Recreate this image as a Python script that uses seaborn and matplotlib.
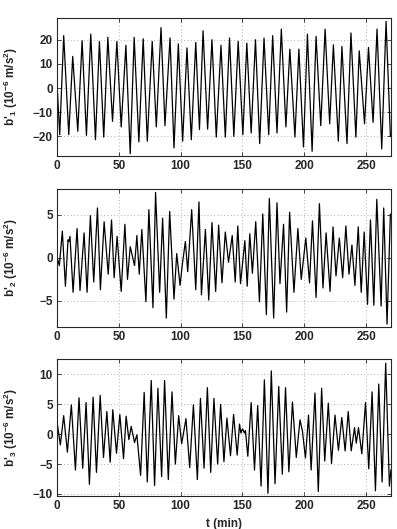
import numpy as np
import pandas as pd
import matplotlib
matplotlib.use("Agg")
import matplotlib.pyplot as plt
import seaborn as sns

# DATA: extrema of each trace (t in min, b' in 1e-6 m/s^2)

t1 = [0, 2.2, 5.4, 9.5, 12.7, 16.8, 20.3, 23.8, 27.3, 31.1, 34.3, 37.8, 41.1, 44.9, 48.4,
      51.9, 55.7, 59.2, 62.4, 66.2, 69.7, 73.0, 77.0, 80.3, 84.1, 87.3, 91.4, 94.6, 98.1,
      101.6, 105.1, 108.6, 112.2, 115.2, 118.1, 121.8, 125.3, 128.8, 132.6, 136.1, 139.5,
      143.0, 146.5, 150.3, 153.5, 157.0, 160.5, 163.9, 167.4, 171.2, 174.4, 177.9, 181.4,
      185.1, 188.3, 192.4, 195.6, 199.3, 202.5, 206.3, 209.5, 213.3, 216.8, 220.5, 223.5,
      227.5, 230.4, 234.5, 237.7, 241.7, 244.4, 248.7, 251.9, 255.6, 258.8, 262.6, 266.1,
      269.6, 270]
b1 = [2, -19.3, 21.7, -19.3, 13.1, -17.9, 19.6, -19.6, 22.3, -21.4, 19.3, -20.3, 21.0, -13.8,
      19.3, -16.1, 17.7, -27.2, 21.0, -22.3, 20.4, -22.0, 19.3, -16.1, 25.0, -15.6, 20.7,
      -24.8, 18.3, -22.0, 16.6, -21.4, 18.9, -17.2, 23.7, -17.0, 20.0, -20.3, 17.7, -20.3,
      20.7, -20.0, 19.3, -19.3, 18.6, -18.6, 20.0, -23.0, 20.7, -19.3, 21.7, -18.6, 24.4,
      -16.1, 16.1, -20.3, 16.1, -24.4, 22.3, -26.2, 21.4, -15.6, 24.4, -14.8, 17.9, -22.0,
      17.2, -23.0, 22.8, -20.3, 15.4, -14.8, 16.8, -14.2, 24.4, -25.2, 27.6, -20.0, -19.0]

t2 = [0, 1.9, 4.3, 6.8, 8.9, 9.7, 10.5, 13.0, 16.2, 18.6, 21.9, 24.3, 27.0, 29.7, 32.7, 35.1,
      38.1, 41.4, 44.1, 46.2, 48.6, 51.9, 54.9, 57.0, 59.2, 62.7, 64.6, 66.5, 68.6, 71.9,
      74.3, 77.6, 79.7, 83.0, 85.4, 88.4, 91.1, 94.6, 96.8, 99.5, 101.4, 103.8, 105.7,
      108.9, 112.2, 114.8, 116.8, 120.0, 122.7, 125.3, 128.3, 130.7, 133.4, 136.1, 138.7,
      141.7, 144.1, 146.2, 148.4, 151.9, 153.8, 155.9, 158.0, 160.7, 163.7, 166.4, 169.3,
      171.7, 175.2, 177.9, 180.3, 183.2, 185.7, 188.1, 191.6, 194.8, 197.5, 201.2, 204.2,
      206.6, 209.5, 212.2, 215.1, 217.6, 220.8, 223.2, 225.6, 228.3, 231.0, 233.6, 236.1,
      238.5, 240.9, 243.6, 246.0, 248.4, 251.1, 253.5, 256.2, 258.6, 262.1, 264.2, 266.9,
      269.6]
b2 = [0.1, -0.9, 3.1, -3.3, 2.1, 1.9, 2.5, -4.0, 3.4, -3.8, 2.9, -4.0, 4.9, -2.8, 5.8, -3.7,
      4.2, -1.9, 4.4, -2.3, 2.5, -3.9, 3.9, -2.5, 1.3, -0.9, 2.6, -1.9, 3.3, -5.1, 5.6, -5.8,
      7.6, -4.0, 4.6, -7.0, 5.4, -4.8, 0.5, -3.2, -0.7, 1.9, -1.6, 5.6, -3.7, 6.5, -4.3, 3.3,
      -4.9, 4.1, -3.9, 3.8, -2.9, 3.0, -0.5, 2.6, -2.8, 3.7, -3.0, 2.0, -3.3, 2.8, -1.8, 4.2,
      -5.1, 5.1, -6.6, 6.9, -7.0, 6.4, -3.0, 3.9, -6.3, 5.3, -4.0, 3.4, -2.5, 2.3, -2.9, 4.3,
      -4.6, 6.3, -3.5, 2.9, -3.9, 3.6, -2.1, 2.3, -2.3, 3.7, -1.9, 1.5, -3.2, 3.6, -4.0, 3.0,
      -5.4, 4.4, -5.5, 6.8, -5.6, 5.8, -7.7, 5.1]

t3 = [0, 2.7, 5.4, 8.4, 11.6, 14.9, 17.8, 20.8, 23.5, 26.2, 29.2, 31.9, 34.9, 37.6, 40.3,
      43.0, 45.1, 48.1, 50.8, 53.8, 55.9, 58.1, 60.0, 62.7, 64.6, 67.6, 70.5, 73.0, 76.2,
      78.9, 81.6, 84.6, 87.0, 90.0, 93.0, 95.7, 98.4, 100.8, 104.3, 107.3, 110.3, 113.5,
      116.0, 118.9, 121.6, 124.3, 126.9, 129.9, 132.3, 135.0, 137.4, 140.3, 142.8, 145.7,
      147.6, 148.7, 150.0, 151.6, 152.4, 154.3, 157.0, 159.7, 162.3, 165.0, 167.7, 170.6,
      173.3, 176.3, 179.3, 182.2, 184.8, 187.5, 190.4, 193.5, 196.5, 198.5, 200.9, 203.4,
      205.5, 208.6, 211.3, 214.0, 216.5, 219.4, 222.0, 224.8, 227.6, 230.3, 233.0, 235.5,
      237.9, 240.6, 242.0, 243.8, 246.5, 249.5, 252.1, 254.8, 257.5, 260.2, 262.9, 265.8,
      268.8, 270]
b3 = [2.1, -1.8, 3.1, -3.0, 4.9, -6.0, 6.1, -5.7, 5.3, -8.4, 6.2, -6.4, 6.5, -3.9, 3.8, -4.7,
      4.1, -3.2, 3.3, -4.1, 3.0, -0.9, 1.3, -1.4, -0.1, -6.9, 7.0, -8.0, 9.0, -8.6, 7.7, -7.1,
      9.0, -7.6, 7.1, -5.0, 3.1, -1.6, 2.6, -5.6, 4.9, -7.6, 6.0, -5.7, 7.8, -6.4, 6.0, -5.0,
      5.0, -4.6, 2.7, -3.6, 3.3, -3.5, 1.7, 0.2, 0.9, 0.2, 0.6, -3.7, 5.3, -6.0, 4.8, -8.7,
      9.1, -9.9, 10.6, -8.3, 8.0, -6.7, 7.8, -6.3, 5.4, -3.9, 2.4, 0.5, -4.0, 3.2, -6.0, 6.9,
      -9.6, 7.7, -4.5, 5.2, -4.9, 3.2, -2.7, 2.8, -2.8, 3.8, -2.8, 1.1, -1.5, 1.1, -3.3, 5.3,
      -5.8, 7.1, -9.5, 8.4, -8.0, 11.9, -8.7, -6.0]

ylabels = ["b'$_1$ (10$^{-6}$ m/s$^2$)", "b'$_2$ (10$^{-6}$ m/s$^2$)", "b'$_3$ (10$^{-6}$ m/s$^2$)"]
yticks = [[-20, -10, 0, 10, 20], [-5, 0, 5], [-10, -5, 0, 5, 10]]
ylims = [(-28, 29), (-8, 8), (-10.3, 12.6)]
xticks = [0, 50, 100, 150, 200, 250]

# PLOT:
sns.set_style("ticks")
plt.rcParams["font.family"] = ["Liberation Sans", "DejaVu Sans"]
plt.rcParams["font.weight"] = "bold"
plt.rcParams["mathtext.fontset"] = "custom"
plt.rcParams["mathtext.rm"] = "Liberation Sans:bold"
plt.rcParams["mathtext.bf"] = "Liberation Sans:bold"
plt.rcParams["mathtext.default"] = "bf"
plt.rcParams["xtick.direction"] = "in"
plt.rcParams["ytick.direction"] = "in"

fig = plt.figure(figsize=(3.97, 5.29), dpi=100)
boxes = [[0.1436, 0.7057, 0.841, 0.2603],
         [0.1436, 0.3824, 0.841, 0.2603],
         [0.1436, 0.0630, 0.841, 0.2584]]

series = [(t1, b1), (t2, b2), (t3, b3)]
for i, (t, b) in enumerate(series):
    ax = fig.add_axes(boxes[i])
    df = pd.DataFrame({"t": t, "b": b})
    sns.lineplot(data=df, x="t", y="b", ax=ax, color="k", linewidth=0.9,
                 estimator=None, sort=False)
    ax.set_xlim(0, 270)
    ax.set_ylim(*ylims[i])
    ax.set_xticks(xticks)
    ax.set_yticks(yticks[i])
    ax.grid(True, linestyle=(0, (1, 3)), color="0.6", linewidth=0.6)
    ax.tick_params(labelsize=8.5, length=3, width=0.6, top=True, right=True, pad=3)
    for s in ax.spines.values():
        s.set_linewidth(0.8)
        s.set_visible(True)
    ax.set_ylabel(ylabels[i], fontsize=8.5, fontweight="bold")
    ax.yaxis.set_label_coords(-0.11, 0.5)
    ax.set_xlabel("")

ax.set_xlabel("t (min)", fontsize=8.5, fontweight="bold")
ax.xaxis.set_label_coords(0.5, -0.165)

fig.savefig("out.png", dpi=100)
